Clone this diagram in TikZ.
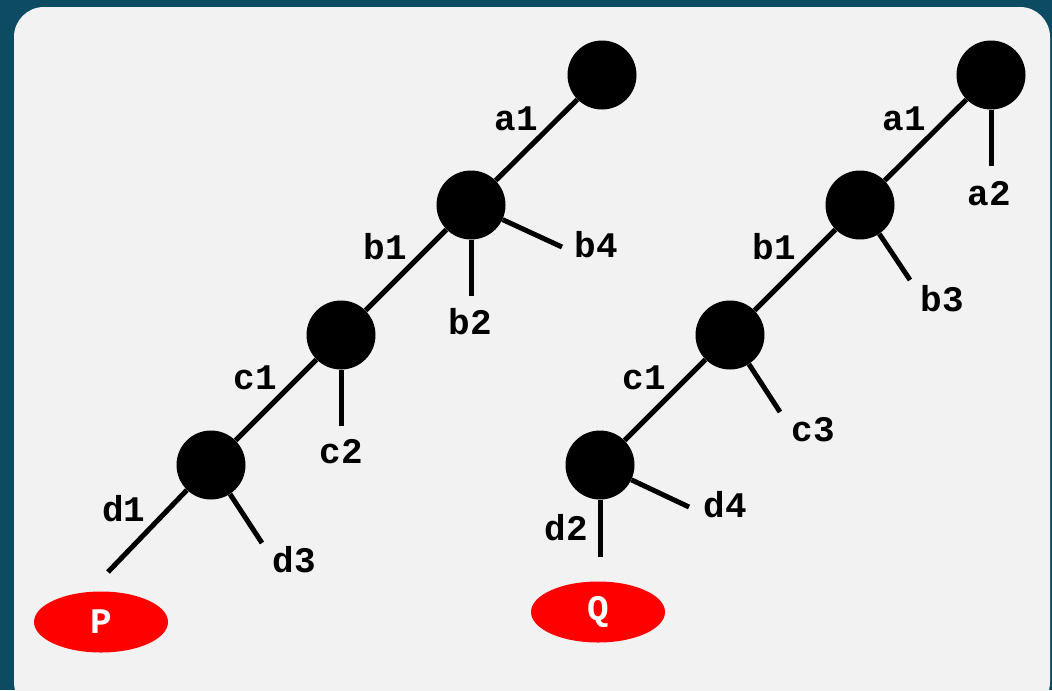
\documentclass[tikz,border=0pt]{standalone}
\usepackage{fontspec}
\setmonofont{Liberation Mono}
\usetikzlibrary{shapes.geometric}
\definecolor{deepteal}{HTML}{0D4B63}
\definecolor{panelgrey}{HTML}{F2F2F2}
\begin{document}
\begin{tikzpicture}[x=0.75pt, y=-0.75pt,
  vertex/.style={circle, fill=black, minimum size=51.75pt, inner sep=0pt},
  branch/.style={line width=3.75pt},
  lbl/.style={font=\ttfamily\bfseries\fontsize{27}{32}\selectfont, inner sep=0pt},
  tag/.style={ellipse, fill=red, text=white, minimum width=100.5pt,
    minimum height=45.75pt, inner sep=0pt,
    font=\ttfamily\bfseries\fontsize{27}{32}\selectfont}]
  % background and panel
  \useasboundingbox[fill=deepteal] (0,0) rectangle (1052,690);
  \fill[panelgrey, rounded corners=22.5pt] (14,7) rectangle (1050,712);

  % left chain
  \node[vertex] (la) at (602,75) {};
  \node[vertex] (lb) at (471,205) {};
  \node[vertex] (lc) at (341,335) {};
  \node[vertex] (ld) at (211,465) {};
  \coordinate (lb2) at (471,296);
  \coordinate (lb4) at (562,247);
  \coordinate (lc2) at (341,426);
  \coordinate (ld1) at (108,572);
  \coordinate (ld3) at (262,543);
  \draw[branch] (la) -- (lb) -- (lc) -- (ld) -- (ld1);
  \draw[branch] (lb) -- (lb2);
  \draw[branch] (lb) -- (lb4);
  \draw[branch] (lc) -- (lc2);
  \draw[branch] (ld) -- (ld3);
  \node[lbl] (la1) at (516,119) {a1};
  \node[lbl] (lb1) at (385,247) {b1};
  \node[lbl] (lbtwo) at (470,322) {b2};
  \node[lbl] (lbfour) at (596,245) {b4};
  \node[lbl] (lc1) at (255,378) {c1};
  \node[lbl] (lctwo) at (341,452) {c2};
  \node[lbl] (ldone) at (124,509) {d1};
  \node[lbl] (ldthree) at (294,560) {d3};
  \node[tag] (p) at (101,622) {P};

  % right chain
  \node[vertex] (ra) at (991,75) {};
  \node[vertex] (rb) at (860,205) {};
  \node[vertex] (rc) at (730,335) {};
  \node[vertex] (rd) at (600,465) {};
  \coordinate (ra2) at (991,166);
  \coordinate (rb3) at (910,280);
  \coordinate (rc3) at (780,412);
  \coordinate (rd2) at (600,557);
  \coordinate (rd4) at (689,507);
  \draw[branch] (ra) -- (rb) -- (rc) -- (rd);
  \draw[branch] (ra) -- (ra2);
  \draw[branch] (rb) -- (rb3);
  \draw[branch] (rc) -- (rc3);
  \draw[branch] (rd) -- (rd2);
  \draw[branch] (rd) -- (rd4);
  \node[lbl] (ra1) at (904,119) {a1};
  \node[lbl] (ratwo) at (989,194) {a2};
  \node[lbl] (rb1) at (774,247) {b1};
  \node[lbl] (rbthree) at (942,299) {b3};
  \node[lbl] (rc1) at (644,378) {c1};
  \node[lbl] (rcthree) at (813,430) {c3};
  \node[lbl] (rdtwo) at (566,528) {d2};
  \node[lbl] (rdfour) at (725,505) {d4};
  \node[tag] (q) at (598,612) {Q};
\end{tikzpicture}
\end{document}
